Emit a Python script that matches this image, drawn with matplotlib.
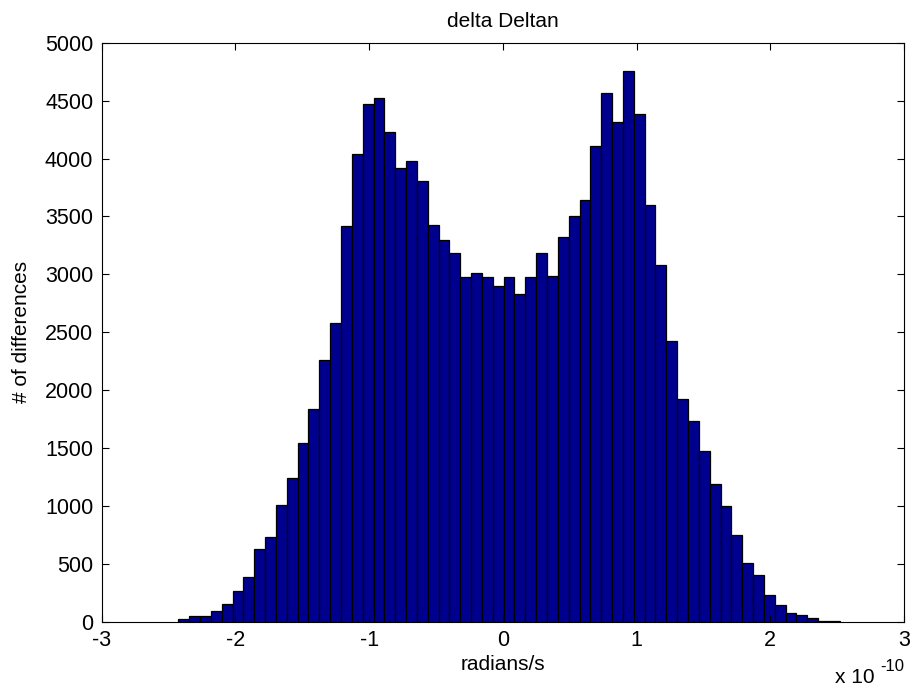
import matplotlib
matplotlib.use("Agg")
import matplotlib.pyplot as plt
import numpy as np

plt.rcParams['font.family'] = ['Liberation Sans', 'DejaVu Sans']

# histogram data (x in units of 1e-10 radians/s)
bin_left = -2.427
bin_width = 0.0811
counts = [23, 52, 52, 98, 158, 268, 391, 627, 734, 1010,
          1243, 1545, 1838, 2264, 2583, 3415, 4042, 4468, 4520, 4227,
          3916, 3979, 3809, 3426, 3297, 3182, 2978, 3012, 2978, 2903,
          2978, 2828, 2978, 3182, 2989, 3320, 3502, 3640, 4108, 4563,
          4313, 4756, 4385, 3597, 3084, 2425, 1922, 1732, 1479, 1191,
          999, 753, 507, 403, 230, 147, 80, 63, 32, 9, 6]
xticks = [-3, -2, -1, 0, 1, 2, 3]
yticks = [0, 500, 1000, 1500, 2000, 2500, 3000, 3500, 4000, 4500, 5000]

edges = bin_left + bin_width * np.arange(len(counts) + 1)
centers = (edges[:-1] + edges[1:]) / 2

fig = plt.figure(figsize=(9.12, 6.92), dpi=100)
ax = fig.add_axes([101.7/912, 1-622/692, 802.3/912, (622-42.7)/692])

ax.bar(centers, counts, width=bin_width, color='#00008F', edgecolor='black',
       linewidth=0.9, align='center')

ax.set_xlim(-3, 3)
ax.set_ylim(0, 5000)
ax.set_xticks(xticks)
ax.set_xticklabels([str(t) for t in xticks])
ax.set_yticks(yticks)
ax.set_yticklabels([str(t) for t in yticks])
ax.tick_params(direction='in', length=5, width=0.8, top=True, right=True,
               labelsize=15.5, pad=6, colors='black')
for s in ax.spines.values():
    s.set_linewidth(0.8)

ax.set_title('delta Deltan', fontsize=15, pad=11.5)
ax.set_xlabel('radians/s', fontsize=15, labelpad=3)
ax.set_ylabel('# of differences', fontsize=15, labelpad=10)

fig.text(835/912, 1-683.3/692, 'x 10', ha='left', va='baseline', fontsize=15)
fig.text(880/912, 1-671/692, '-10', ha='left', va='baseline', fontsize=12)

fig.savefig('out.png', dpi=100)
